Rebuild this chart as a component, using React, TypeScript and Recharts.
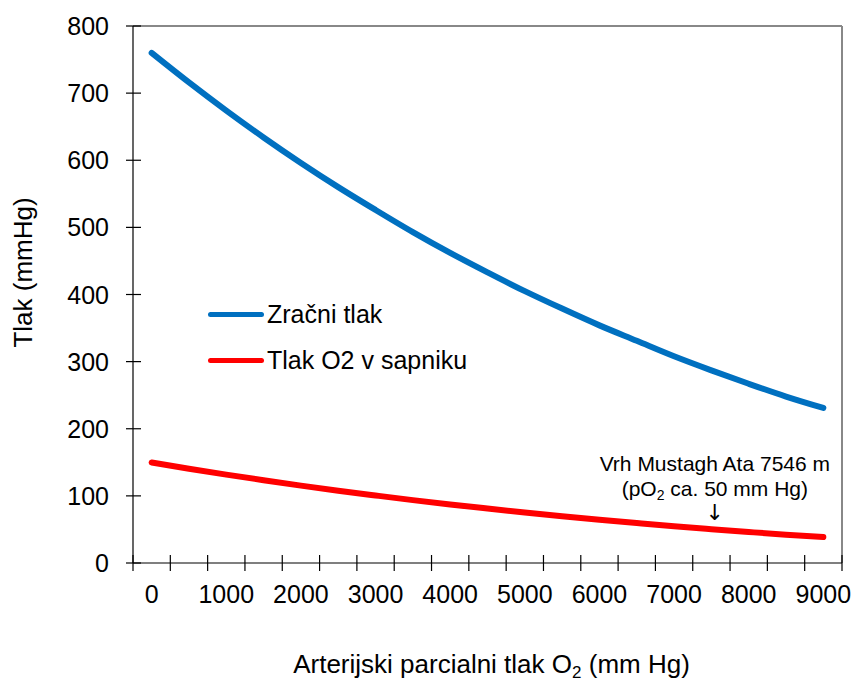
import React from "react";
import {
  Legend,
  Line,
  LineChart,
  ReferenceDot,
  ReferenceLine,
  XAxis,
  YAxis,
  Label,
} from "recharts";

// altitude categories (m), drawn as bands of 500
const altitudes = [0, 500, 1000, 1500, 2000, 2500, 3000, 3500, 4000, 4500, 5000, 5500, 6000, 6500, 7000, 7500, 8000, 8500, 9000];
const airPressure = [760, 716, 674, 634, 596, 560, 526, 493, 462, 433, 405, 379, 354, 331, 308, 287, 267, 248, 231];
const o2Pressure = [149.7, 140.5, 131.7, 123.3, 115.3, 107.7, 100.6, 93.7, 87.2, 81.1, 75.2, 69.7, 64.5, 59.6, 54.8, 50.4, 46.2, 42.2, 38.6];
const xLabels = [0, 1000, 2000, 3000, 4000, 5000, 6000, 7000, 8000, 9000];
const yTicks = [0, 100, 200, 300, 400, 500, 600, 700, 800];
const seriesNames = ["Zračni tlak", "Tlak O2 v sapniku"];

const peakAltitude = 7546;
const peakPo2 = 50;

const data = altitudes.map((alt, i) => ({ alt, air: airPressure[i], o2: o2Pressure[i] }));

const step = altitudes[1] - altitudes[0];
const boundaries = [...altitudes.map((a) => a - step / 2), altitudes[altitudes.length - 1] + step / 2];
const xTicks = [...new Set([...boundaries, ...xLabels])].sort((a, b) => a - b);

const FONT = "Arial, 'Liberation Sans', sans-serif";
const TICK_SIZE = 8;
const X_TICK_MARGIN = 14;
const Y_TICK_MARGIN = 16;

function XTick({ x, y, payload }: any) {
  const v = payload.value;
  const axisY = y - TICK_SIZE - X_TICK_MARGIN;
  return (
    <g>
      {boundaries.includes(v) && <line x1={x} x2={x} y1={axisY - 8} y2={axisY + 8} stroke="#000" strokeWidth={1.2} />}
      {xLabels.includes(v) && (
        <text x={x} y={y} dy="0.71em" textAnchor="middle" fontSize={25} fontFamily={FONT} fill="#000">
          {v}
        </text>
      )}
    </g>
  );
}

function YTick({ x, y, payload }: any) {
  const axisX = x + TICK_SIZE + Y_TICK_MARGIN;
  return (
    <g>
      <line x1={axisX - 7} x2={axisX + 8} y1={y} y2={y} stroke="#000" strokeWidth={1.2} />
      <text x={x} y={y} dy="0.36em" textAnchor="end" fontSize={25} fontFamily={FONT} fill="#000">
        {payload.value}
      </text>
    </g>
  );
}

function renderLegend({ payload }: any) {
  const items = [...payload].sort((a: any, b: any) => seriesNames.indexOf(a.value) - seriesNames.indexOf(b.value));
  return (
    <div style={{ fontFamily: FONT }}>
      {items.map((entry: any) => (
        <div key={entry.value} style={{ display: "flex", alignItems: "center", height: 46 }}>
          <span style={{ display: "inline-block", width: 56, height: 5, borderRadius: 3, background: entry.color }} />
          <span style={{ marginLeft: 3, fontSize: 25, color: "#000" }}>{entry.value}</span>
        </div>
      ))}
    </div>
  );
}

function XTitle({ viewBox }: any) {
  const cx = viewBox.x + viewBox.width / 2 + 4;
  const by = viewBox.y + 110;
  return (
    <text x={cx} y={by} textAnchor="middle" fontSize={26} fontFamily={FONT} fill="#000">
      Arterijski parcialni tlak O
      <tspan fontSize={17} dy={5}>2</tspan>
      <tspan dy={-5}> (mm Hg)</tspan>
    </text>
  );
}

function PeakNote({ viewBox }: any) {
  const cx = viewBox.x + viewBox.width / 2;
  const cy = viewBox.y + viewBox.height / 2;
  return (
    <g fill="#000" textAnchor="middle">
      <text x={cx} y={cy - 58} fontSize={21} fontFamily={FONT}>
        Vrh Mustagh Ata {peakAltitude} m
      </text>
      <text x={cx} y={cy - 33} fontSize={21} fontFamily={FONT}>
        (pO<tspan fontSize={14} dy={4}>2</tspan>
        <tspan dy={-4}> ca. {peakPo2} mm Hg)</tspan>
      </text>
      <text x={cx} y={cy - 9} fontSize={22} fontFamily="'DejaVu Sans', sans-serif">
        ↓
      </text>
    </g>
  );
}

export default function App() {
  return (
    <div style={{ position: "absolute", left: 0, top: 0, background: "#fff" }}>
      <LineChart width={856} height={681} data={data} margin={{ top: 26, right: 14, bottom: 0, left: 0 }}>
        <XAxis
          type="number"
          dataKey="alt"
          domain={[boundaries[0], boundaries[boundaries.length - 1]]}
          ticks={xTicks}
          interval={0}
          allowDataOverflow
          tickLine={false}
          tickSize={TICK_SIZE}
          tickMargin={X_TICK_MARGIN}
          axisLine={{ stroke: "#000", strokeWidth: 1.2 }}
          tick={<XTick />}
          height={118}
        >
          <Label content={<XTitle />} />
        </XAxis>
        <YAxis
          domain={[0, 800]}
          ticks={yTicks}
          interval={0}
          tickLine={false}
          tickSize={TICK_SIZE}
          tickMargin={Y_TICK_MARGIN}
          axisLine={{ stroke: "#000", strokeWidth: 1.2 }}
          tick={<YTick />}
          width={133}
        >
          <Label
            value="Tlak (mmHg)"
            angle={-90}
            position="center"
            dx={-44}
            dy={-22}
            style={{ fontSize: 26, fontFamily: FONT, fill: "#000" }}
          />
        </YAxis>
        <ReferenceLine y={800} stroke="#888" strokeWidth={2} />
        <ReferenceLine x={boundaries[boundaries.length - 1]} stroke="#888" strokeWidth={2} />
        <Legend
          layout="vertical"
          align="center"
          verticalAlign="middle"
          content={renderLegend}
          wrapperStyle={{ left: 208, top: 291, width: "auto" }}
        />
        <Line
          name={seriesNames[0]}
          type="monotone"
          dataKey="air"
          stroke="#0070C0"
          strokeWidth={6}
          strokeLinecap="round"
          dot={false}
          isAnimationActive={false}
        />
        <Line
          name={seriesNames[1]}
          type="monotone"
          dataKey="o2"
          stroke="#FF0000"
          strokeWidth={6}
          strokeLinecap="round"
          dot={false}
          isAnimationActive={false}
        />
        <ReferenceDot x={peakAltitude} y={peakPo2} r={1} fill="none" stroke="none" label={<PeakNote />} />
      </LineChart>
    </div>
  );
}
